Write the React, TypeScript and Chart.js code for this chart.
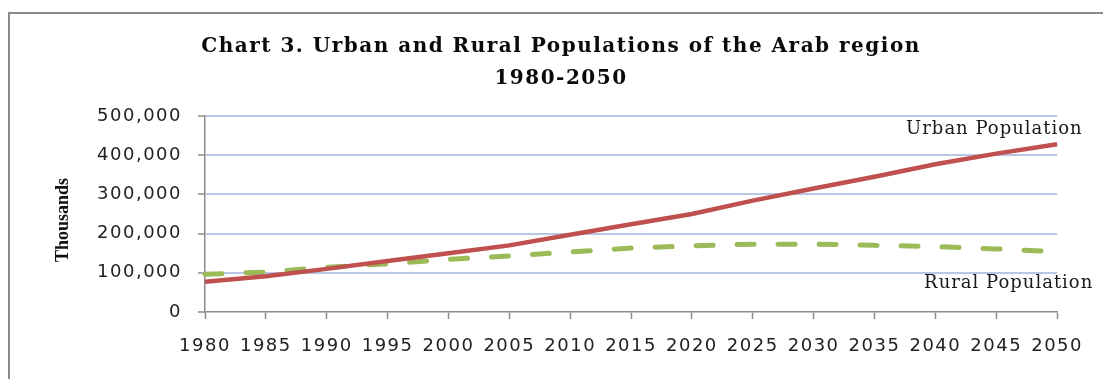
import React, { useEffect, useRef } from "react";
import { Chart, registerables } from "chart.js";

Chart.register(...registerables);

// Years on the horizontal axis
const years: string[] = [
  "1980", "1985", "1990", "1995", "2000", "2005", "2010", "2015",
  "2020", "2025", "2030", "2035", "2040", "2045", "2050",
];

// Population in thousands
const urbanPopulation: number[] = [
  77000, 91000, 110000, 130000, 150000, 170000, 197000, 224000,
  250000, 284000, 315000, 345000, 377000, 404000, 428000,
];
const ruralPopulation: number[] = [
  96000, 102000, 114000, 123000, 134000, 143000, 153000, 163000,
  169000, 173000, 173000, 170000, 167000, 161000, 154000,
];

const titleLines: string[] = [
  "Chart 3. Urban and Rural Populations of the Arab region",
  "1980-2050",
];
const yAxisTitle = "Thousands";
const urbanLabel = "Urban Population";
const ruralLabel = "Rural Population";

const CANVAS_W = 1090;
const CANVAS_H = 362;
const PLOT_BOTTOM = 298;

// Slightly widened lettering for the chart's own text
const spacingPlugin = {
  id: "letterSpacing",
  beforeUpdate(chart: any) {
    chart.ctx.letterSpacing = "1.5px";
  },
  beforeDraw(chart: any) {
    chart.ctx.letterSpacing = "1.5px";
  },
};

// Axis title and series names written next to the line ends
const annotationPlugin = {
  id: "annotations",
  afterDatasetsDraw(chart: any) {
    const { ctx, chartArea, scales } = chart;
    const y = scales.y;
    const last = years.length - 1;
    ctx.save();
    ctx.letterSpacing = "1px";
    ctx.font = '18px "DejaVu Serif"';
    ctx.fillStyle = "#1a1a1a";
    ctx.textAlign = "left";
    ctx.textBaseline = "alphabetic";
    ctx.fillText(urbanLabel, chartArea.right - 151, y.getPixelForValue(urbanPopulation[last]) - 10);
    ctx.fillText(ruralLabel, chartArea.right - 133, y.getPixelForValue(ruralPopulation[last]) + 36);
    ctx.restore();

    ctx.save();
    ctx.letterSpacing = "0px";
    ctx.font = 'bold 18px "Liberation Serif"';
    ctx.fillStyle = "#111";
    ctx.textAlign = "center";
    ctx.textBaseline = "middle";
    ctx.translate(53, (chartArea.top + chartArea.bottom) / 2 + 6);
    ctx.rotate(-Math.PI / 2);
    ctx.fillText(yAxisTitle, 0, 0);
    ctx.restore();
  },
};

export default function App() {
  const canvasRef = useRef<HTMLCanvasElement | null>(null);

  useEffect(() => {
    const canvas = canvasRef.current;
    if (!canvas) return;
    const chart = new Chart(canvas, {
      type: "line",
      data: {
        labels: years,
        datasets: [
          {
            label: urbanLabel,
            data: urbanPopulation,
            borderColor: "#c0504d",
            borderWidth: 4.5,
            pointRadius: 0,
            tension: 0,
            fill: false,
          },
          {
            label: ruralLabel,
            data: ruralPopulation,
            borderColor: "#9bbb59",
            borderWidth: 5,
            borderDash: [17, 24],
            borderCapStyle: "round",
            pointRadius: 0,
            tension: 0,
            fill: false,
          },
        ],
      },
      options: {
        responsive: false,
        animation: false,
        events: [],
        layout: { padding: { left: 54, right: 42, top: 0, bottom: 0 } },
        plugins: {
          legend: { display: false },
          tooltip: { enabled: false },
          title: {
            display: true,
            text: titleLines,
            color: "#0a0a0a",
            font: { family: '"DejaVu Serif"', size: 20, weight: "bold", lineHeight: 32 / 20 },
            padding: { top: 17, bottom: 21 },
          },
        },
        scales: {
          x: {
            type: "category",
            offset: false,
            afterFit(scale: any) {
              scale.height = CANVAS_H - PLOT_BOTTOM;
            },
            grid: {
              drawOnChartArea: false,
              drawTicks: true,
              tickLength: 7,
              tickColor: "#8c8c8c",
              tickWidth: 1.5,
            },
            border: { display: true, color: "#8c8c8c", width: 1.5 },
            ticks: {
              autoSkip: false,
              maxRotation: 0,
              padding: 17,
              color: "#222",
              font: { family: '"DejaVu Sans"', size: 18 },
            },
          },
          y: {
            min: 0,
            max: 500000,
            afterFit(scale: any) {
              scale.width = 141;
            },
            grid: {
              color: (c: any) => (c.tick && c.tick.value === 0 ? "rgba(0,0,0,0)" : "#b9c6e6"),
              lineWidth: 2,
              drawTicks: true,
              tickLength: 7,
              tickColor: "#8c8c8c",
              tickWidth: 1.5,
            },
            border: { display: true, color: "#8c8c8c", width: 1.5 },
            ticks: {
              stepSize: 100000,
              padding: 16,
              color: "#222",
              font: { family: '"DejaVu Sans"', size: 18 },
              callback: (v: any) => Number(v).toLocaleString("en-US"),
            },
          },
        },
      },
      plugins: [spacingPlugin, annotationPlugin],
    });
    return () => chart.destroy();
  }, []);

  return (
    <div style={{ position: "fixed", left: 8, top: 12, right: 0, bottom: 0 }}>
      <div
        style={{
          position: "absolute",
          left: 0,
          top: 0,
          width: 2,
          bottom: 0,
          background: "#8a8a8a",
        }}
      />
      <div
        style={{
          position: "absolute",
          left: 0,
          top: 0,
          right: 0,
          height: 2,
          background: "#8a8a8a",
        }}
      />
      <canvas
        ref={canvasRef}
        width={CANVAS_W}
        height={CANVAS_H}
        style={{ position: "absolute", left: 2, top: 2, display: "block", width: CANVAS_W, height: CANVAS_H }}
      />
    </div>
  );
}
